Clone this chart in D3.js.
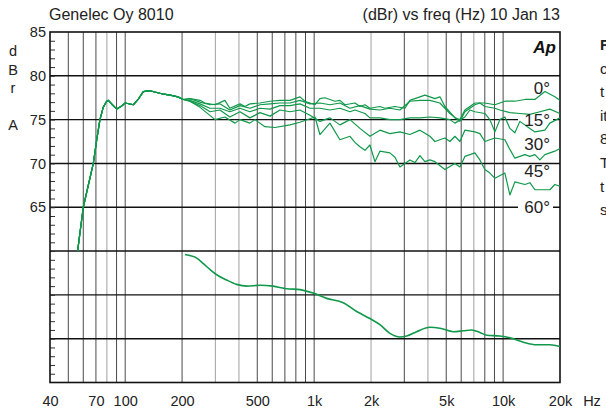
<!DOCTYPE html>
<html>
<head>
	<meta charset="utf-8">
	<title>Genelec Oy 8010</title>
	<script type="text/javascript" src="https://cdn.jsdelivr.net/npm/d3@7/dist/d3.min.js"></script>
	<style type="text/css">
		body { margin: 0; background: #fff; }
		.chart { display: block; font-family: "Liberation Sans", Arial, Helvetica, sans-serif; }
	</style>
</head>
<body>

	<svg width=606 height=408 class="chart"></svg>

	<script type="text/javascript">

		// [Hz, dBr] pairs
		// common part, the off-axis curves only split above ~200 Hz
		var baseResponse = [[56,60.0],[60,65.0],[67.8,70.0],[70.7,72.7],[73.5,75.0],[76.5,76.4],[79.8,77.1],[81.4,77.2],[85.5,76.7],[90.2,76.2],[95,76.5],[100,76.9],[110.4,76.7],[117,77.3],[124.7,78.2],[135.2,78.3],[146.8,78.1],[160,77.9],[173,77.8],[190,77.6],[203,77.3]]

		var resp0 = [[220,77.4],[249,77.2],[264,76.9],[299,76.7],[337,77.2],[358,76.3],[405,76.8],[430,76.5],[457,76.8],[517,76.9],[584,77.1],[659,77.2],[745,77.2],[841,77.6],[894,77.1],[1010,76.7],[1073,77.4],[1140,77.5],[1288,77.1],[1369,77.2],[1455,76.7],[1644,76.9],[1747,76.5],[1857,76.7],[1973,76.3],[2229,76.5],[2369,76.3],[2676,76.5],[3022,76.3],[3212,77.2],[3414,77.4],[3856,77.8],[4355,77.4],[4629,77.6],[4920,76.5],[5557,75.2],[5906,75.0],[6277,76.1],[7090,76.9],[8009,76.9],[9046,76.7],[10218,77.1],[11542,77.1],[13037,77.3],[14727,77.3],[16635,78.2],[18790,77.6],[19970,77.2]]

		var resp15 = [[220,77.4],[249,77.0],[281,76.7],[317,76.8],[358,76.1],[405,76.6],[457,76.3],[517,76.7],[584,76.8],[659,76.9],[745,76.9],[841,77.2],[950,76.8],[1073,76.9],[1212,76.7],[1369,76.9],[1547,76.3],[1747,76.6],[1973,76.2],[2229,76.1],[2517,76.3],[2844,76.1],[3212,77.1],[3629,77.2],[4098,77.2],[4629,76.9],[5229,75.7],[5906,74.8],[6277,75.9],[7090,76.7],[7535,76.9],[8009,76.5],[9046,76.3],[9614,76.1],[10859,75.8],[12267,75.7],[13856,75.6],[15652,75.9],[17680,76.2],[19970,75.7]]

		var resp30 = [[220,77.2],[249,76.8],[281,76.3],[317,76.3],[358,75.9],[405,76.3],[457,75.9],[517,76.3],[584,76.2],[659,76.6],[745,76.6],[841,76.8],[950,76.3],[1073,76.3],[1212,76.1],[1369,76.3],[1547,75.9],[1644,76.1],[1857,75.7],[1973,75.2],[2229,75.2],[2517,75.0],[2844,75.0],[3212,75.2],[3629,75.2],[4098,75.3],[4629,75.2],[5229,75.0],[5557,74.6],[6277,75.3],[6671,76.1],[7090,75.9],[8009,75.7],[8511,75.0],[9046,73.6],[9614,75.0],[10218,75.3],[10859,74.0],[11542,73.5],[12267,74.8],[13856,74.0],[14727,73.6],[16635,73.8],[17680,74.6],[19970,75.2]]

		var resp45 = [[220,77.1],[249,76.6],[281,75.9],[317,76.1],[358,75.3],[405,75.9],[457,75.2],[517,75.8],[584,75.4],[659,76.1],[745,75.9],[841,76.1],[950,75.5],[1073,74.8],[1212,75.2],[1369,74.4],[1547,75.0],[1747,74.0],[1973,73.1],[2229,73.8],[2517,73.4],[2844,73.6],[3212,73.3],[3629,73.8],[4098,73.1],[4355,72.5],[4920,72.9],[5229,72.5],[5557,73.1],[5906,72.5],[6277,73.8],[7090,73.6],[7535,73.4],[8009,72.5],[8511,72.7],[9046,72.9],[10218,72.7],[10859,71.6],[11542,70.6],[13037,71.0],[13856,70.8],[14727,71.0],[15652,70.4],[16635,71.0],[18790,71.4],[19970,71.7]]

		var resp60 = [[220,77.1],[249,76.4],[299,75.0],[337,75.3],[381,74.6],[405,75.0],[457,74.6],[486,75.0],[549,74.2],[620,74.1],[745,74.4],[841,74.7],[1010,75.3],[1073,73.3],[1212,74.6],[1369,72.7],[1547,73.1],[1644,72.4],[1747,71.9],[1857,71.5],[1973,72.1],[2097,70.2],[2229,71.4],[2517,71.2],[2676,70.7],[2844,69.6],[3212,70.4],[3414,70.1],[3629,70.9],[3856,70.2],[4098,70.4],[4355,70.2],[4920,69.3],[5557,70.0],[5906,69.6],[6277,70.8],[7090,71.2],[7535,70.4],[8009,69.3],[8511,68.9],[9046,68.3],[10218,68.9],[10859,66.4],[11542,67.9],[13037,67.6],[13856,67.8],[14727,67.0],[17680,67.0],[18790,67.6],[19970,67.4]]

		// smooth trace in the lower panel
		var lowerTrace = [[207,59.6],[239,59.2],[258,58.6],[281,57.9],[305,57.3],[344,56.7],[389,56.2],[439,56.0],[517,56.1],[605,56.0],[715,55.7],[841,55.6],[989,55.2],[1164,54.6],[1426,54.1],[1678,53.1],[1973,52.3],[2229,51.6],[2517,50.6],[2844,50.2],[3086,50.3],[3486,50.8],[4098,51.3],[4629,51.2],[5444,50.8],[6149,50.9],[6812,51.0],[7535,50.7],[8180,50.4],[9614,50.3],[10859,50.1],[12772,49.6],[15035,49.3],[17680,49.3],[19970,49.1]]

		var angleNames = ['0°', '15°', '30°', '45°', '60°']
		var angleLabelDb = [78.6, 75, 72.2, 69.1, 65]

		var gridFreqs = [50,60,70,80,90,100,200,300,400,500,600,700,800,900,1000,2000,3000,4000,5000,6000,7000,8000,9000,10000]
		var lightFreqs = [80,300,400,2000,4000,7000]
		var gridLevels = [50,55,60,65,70,75,80]
		var levelLabels = [85,80,75,70,65]
		var freqTicks = [40,70,100,200,500,1000,2000,5000,10000,20000]
		var freqNames = ['40','70','100','200','500','1k','2k','5k','10k','20k']

		// text cut off at the right edge of the page
		var sideText = ['F','c','t','it','8','T','t','s']

		var svg = d3.select('.chart')
		var green = '#10994a'

		var x = d3.scaleLog().domain([40, 20000]).range([50, 560])
		var y = d3.scaleLinear().domain([45, 85]).range([382.5, 32])

		// vertical grid
		svg.append('g')
			.selectAll('line')
			.data(gridFreqs)
			.enter()
			.append('line')
			.attr('x1', function(d) { return x(d) })
			.attr('x2', function(d) { return x(d) })
			.attr('y1', y(85))
			.attr('y2', y(45))
			.attr('stroke', function(d) { return lightFreqs.indexOf(d) >= 0 ? '#a0a0a0' : '#4a4a4a' })
			.attr('stroke-width', 1)

		// horizontal grid
		svg.append('g')
			.selectAll('line')
			.data(gridLevels)
			.enter()
			.append('line')
			.attr('x1', 50)
			.attr('x2', 560)
			.attr('y1', function(d) { return y(d) })
			.attr('y2', function(d) { return y(d) })
			.attr('stroke', '#111')
			.attr('stroke-width', 1.4)

		// minor 1 dB ticks on the left edge
		svg.append('g')
			.attr('transform', 'translate(50,0)')
			.call(d3.axisRight(y).tickValues(d3.range(46, 85)).tickSize(5).tickFormat(''))
			.call(function(g) { g.select('.domain').remove() })
			.selectAll('line').attr('stroke', '#333')

		// frame
		svg.append('rect')
			.attr('x', 50).attr('y', y(85))
			.attr('width', 510).attr('height', y(45) - y(85))
			.attr('fill', 'none')
			.attr('stroke', '#111')
			.attr('stroke-width', 1.6)

		// gaps in the grid behind labels that sit on a line
		svg.append('g')
			.selectAll('rect')
			.data(angleLabelDb.filter(function(d) { return gridLevels.indexOf(d) >= 0 }))
			.enter()
			.append('rect')
			.attr('x', 518).attr('width', 35)
			.attr('y', function(d) { return y(d) - 3 })
			.attr('height', 6)
			.attr('fill', '#fff')

		// level axis labels
		svg.append('g')
			.attr('transform', 'translate(50,0)')
			.call(d3.axisLeft(y).tickValues(levelLabels).tickSize(0).tickPadding(4))
			.call(function(g) { g.select('.domain').remove() })
			.selectAll('text')
			.attr('font-size', 14.5)
			.attr('font-family', '"Liberation Sans", Arial, sans-serif')
			.attr('fill', '#222')

		// frequency axis labels
		svg.append('g')
			.attr('transform', 'translate(0,' + y(45) + ')')
			.call(d3.axisBottom(x).tickValues(freqTicks).tickSize(0).tickPadding(13.5)
				.tickFormat(function(d, i) { return freqNames[i] }))
			.call(function(g) { g.select('.domain').remove() })
			.selectAll('text')
			.attr('font-size', 14.5)
			.attr('font-family', '"Liberation Sans", Arial, sans-serif')
			.attr('fill', '#222')

		svg.append('text').attr('x', 592).attr('y', 406)
			.attr('text-anchor', 'middle').attr('font-size', 14.5).attr('fill', '#222')
			.text('Hz')

		// curves
		var line = d3.line()
			.x(function(d) { return x(d[0]) })
			.y(function(d) { return y(d[1]) })

		var offAxis = [resp0, resp15, resp30, resp45, resp60]

		svg.append('g')
			.selectAll('path')
			.data(offAxis)
			.enter()
			.append('path')
			.attr('d', function(d) { return line(baseResponse.concat(d)) })
			.attr('fill', 'none')
			.attr('stroke', green)
			.attr('stroke-width', 1.2)
			.attr('stroke-linejoin', 'round')

		svg.append('path')
			.attr('d', line.curve(d3.curveMonotoneX)(lowerTrace))
			.attr('fill', 'none')
			.attr('stroke', green)
			.attr('stroke-width', 1.6)

		// angle labels
		svg.append('g')
			.selectAll('text')
			.data(angleNames)
			.enter()
			.append('text')
			.attr('x', 550)
			.attr('y', function(d, i) { return y(angleLabelDb[i]) + 6 })
			.attr('text-anchor', 'end')
			.attr('font-size', 17)
			.attr('fill', '#222')
			.text(function(d) { return d })

		// titles
		svg.append('text').attr('x', 49).attr('y', 20)
			.attr('font-size', 16).attr('fill', '#222')
			.text('Genelec Oy 8010')

		svg.append('text').attr('x', 560).attr('y', 20)
			.attr('text-anchor', 'end').attr('font-size', 16).attr('fill', '#222')
			.text('(dBr) vs freq (Hz) 10 Jan 13')

		svg.append('text').attr('x', 556).attr('y', 53)
			.attr('text-anchor', 'end').attr('font-size', 17)
			.attr('font-weight', 'bold').attr('font-style', 'italic').attr('fill', '#111')
			.text('Ap')

		// unit letters stacked down the left side
		svg.append('g')
			.selectAll('text')
			.data(['d', 'B', 'r', 'A'])
			.enter()
			.append('text')
			.attr('x', 13)
			.attr('y', function(d, i) { return [56, 75, 93, 130][i] })
			.attr('text-anchor', 'middle')
			.attr('font-size', 14.5)
			.attr('fill', '#222')
			.text(function(d) { return d })

		svg.append('g')
			.selectAll('text')
			.data(sideText)
			.enter()
			.append('text')
			.attr('x', 600)
			.attr('y', function(d, i) { return 50 + i * 23.6 })
			.attr('font-size', 15)
			.attr('font-weight', function(d, i) { return i == 0 ? 'bold' : 'normal' })
			.attr('fill', '#222')
			.text(function(d) { return d })

	</script>

</body>
</html>
